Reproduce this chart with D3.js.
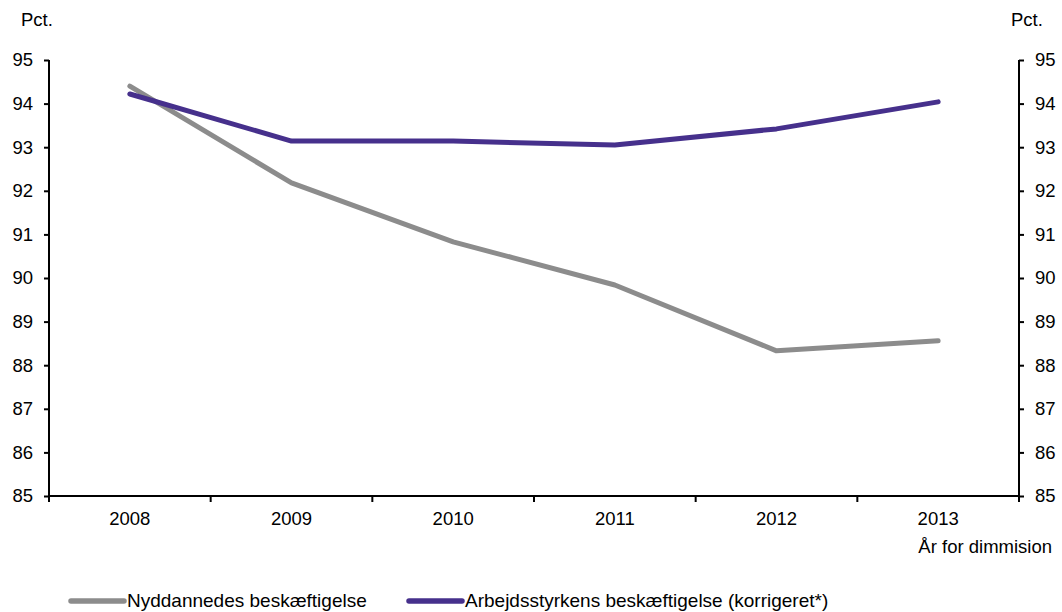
<!DOCTYPE html>
<html>
<head>
<meta charset="utf-8">
<script src="https://cdn.jsdelivr.net/npm/d3@7"></script>
<style>
  body { margin: 0; background: #fff; }
  text { font-family: "Liberation Sans", Arial, sans-serif; fill: #000; }
</style>
</head>
<body>
<script>
'use strict';

var years = ['2008', '2009', '2010', '2011', '2012', '2013'];
var nyuddannede = [94.40, 92.18, 90.83, 89.84, 88.33, 88.56];
var arbejdsstyrke = [94.22, 93.14, 93.14, 93.05, 93.42, 94.04];
var yTicks = [85, 86, 87, 88, 89, 90, 91, 92, 93, 94, 95];
var seriesNames = ['Nyddannedes beskæftigelse', 'Arbejdsstyrkens beskæftigelse (korrigeret*)'];
var seriesColors = ['#8c8c8c', '#46308c'];

var width = 1062, height = 612;
var plotLeft = 49, plotRight = 1019, plotTop = 60, plotBottom = 496;
var fs = '18.5px';

var svg = d3.select('body').append('svg')
    .attr('width', width)
    .attr('height', height);

var x = d3.scaleBand().domain(years).range([plotLeft, plotRight]);
var y = d3.scaleLinear().domain([85, 95]).range([plotBottom, plotTop]);

// left axis
var yLeft = svg.append('g')
    .attr('transform', 'translate(' + plotLeft + ',0)')
    .call(d3.axisLeft(y).tickValues(yTicks).tickSize(5).tickPadding(11).tickFormat(d3.format('d')));

// right axis
var yRight = svg.append('g')
    .attr('transform', 'translate(' + plotRight + ',0)')
    .call(d3.axisRight(y).tickValues(yTicks).tickSize(5).tickPadding(11).tickFormat(d3.format('d')));

// x axis, labels only; ticks go between categories
var xAxis = svg.append('g')
    .attr('transform', 'translate(0,' + plotBottom + ')')
    .call(d3.axisBottom(x).tickSize(0).tickPadding(16));

[yLeft, yRight, xAxis].forEach(function(g) {
  g.select('.domain').remove();
  g.selectAll('.tick line').attr('stroke', '#000').attr('stroke-width', 2);
  g.selectAll('.tick text').style('font-size', fs).attr('fill', '#000')
    .style('font-family', '"Liberation Sans", Arial, sans-serif');
});

var bounds = years.map(function(d) { return x(d); }).concat([plotRight]);
xAxis.selectAll('line.sep')
    .data(bounds)
  .enter().append('line')
    .attr('class', 'sep')
    .attr('x1', function(d) { return d; })
    .attr('x2', function(d) { return d; })
    .attr('y1', 0)
    .attr('y2', 6)
    .attr('stroke', '#000')
    .attr('stroke-width', 2);

svg.append('line').attr('x1', plotLeft).attr('x2', plotLeft).attr('y1', plotTop).attr('y2', plotBottom + 1)
    .attr('stroke', '#000').attr('stroke-width', 2);
svg.append('line').attr('x1', plotRight).attr('x2', plotRight).attr('y1', plotTop).attr('y2', plotBottom + 1)
    .attr('stroke', '#000').attr('stroke-width', 2);
svg.append('line').attr('x1', plotLeft - 1).attr('x2', plotRight + 1).attr('y1', plotBottom).attr('y2', plotBottom)
    .attr('stroke', '#000').attr('stroke-width', 2);

// lines
var line = d3.line()
    .x(function(d, i) { return x(years[i]) + x.bandwidth() / 2; })
    .y(function(d) { return y(d); });

[nyuddannede, arbejdsstyrke].forEach(function(vals, i) {
  svg.append('path')
    .datum(vals)
    .attr('fill', 'none')
    .attr('stroke', seriesColors[i])
    .attr('stroke-width', 5)
    .attr('stroke-linecap', 'round')
    .attr('stroke-linejoin', 'round')
    .attr('d', line);
});

// unit labels
svg.append('text').attr('x', 21).attr('y', 26).style('font-size', fs).text('Pct.');
svg.append('text').attr('x', 1011).attr('y', 26).style('font-size', fs).text('Pct.');

svg.append('text')
    .attr('x', 1052).attr('y', 553)
    .attr('text-anchor', 'end')
    .style('font-size', fs)
    .text('År for dimmision');

// legend
var legendX = [71, 409];
seriesNames.forEach(function(name, i) {
  svg.append('line')
    .attr('x1', legendX[i]).attr('x2', legendX[i] + 53)
    .attr('y1', 601).attr('y2', 601)
    .attr('stroke', seriesColors[i])
    .attr('stroke-width', 5.5)
    .attr('stroke-linecap', 'round');
  svg.append('text')
    .attr('x', legendX[i] + 56).attr('y', 607)
    .style('font-size', '19px')
    .text(name);
});
</script>
</body>
</html>
